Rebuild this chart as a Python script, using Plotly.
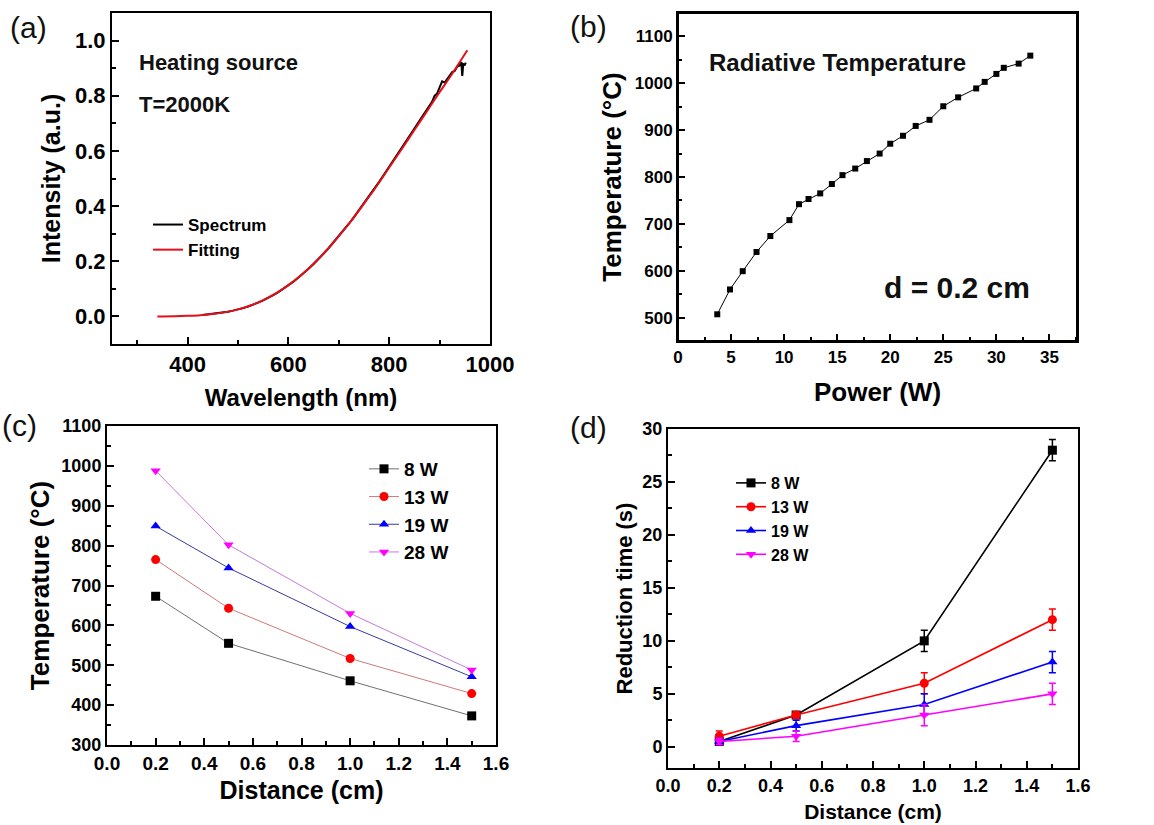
import plotly.graph_objects as go

# ---------------- data ----------------
# (a) spectrum and Planck fit (T = 2000 K)
fit_wl = [340, 375, 400, 425, 450, 475, 500, 525, 550, 575, 600, 625, 650, 675, 700,
          725, 750, 775, 800, 825, 850, 875, 900, 925, 955]
fit_int = [0.000, 0.0007, 0.0022, 0.0045, 0.0087, 0.0156, 0.0256, 0.0397, 0.0589, 0.0832,
           0.1134, 0.1494, 0.1910, 0.238, 0.291, 0.347, 0.409, 0.472, 0.540, 0.607,
           0.676, 0.744, 0.813, 0.880, 0.965]
spec_wl = [430, 440, 450, 460, 470, 480, 490, 500, 510, 520, 530, 540, 550, 560, 570,
           580, 590, 600, 610, 620, 630, 640, 650, 660, 670, 680, 690, 700, 710, 720,
           730, 740, 750, 760, 770, 780, 790, 800, 810, 820, 830, 840, 850, 860, 870,
           880, 885, 890, 895, 900, 905, 910, 915, 920, 925, 930, 935, 940, 943, 945,
           947, 950, 952]
spec_int = [0.005, 0.007, 0.009, 0.011, 0.014, 0.017, 0.021, 0.025, 0.030, 0.036, 0.042,
            0.050, 0.058, 0.067, 0.077, 0.088, 0.100, 0.112, 0.126, 0.141, 0.156, 0.173,
            0.190, 0.208, 0.228, 0.248, 0.269, 0.291, 0.313, 0.336, 0.360, 0.385, 0.410,
            0.435, 0.461, 0.488, 0.515, 0.542, 0.570, 0.597, 0.625, 0.653, 0.681, 0.709,
            0.737, 0.765, 0.778, 0.800, 0.808, 0.830, 0.852, 0.848, 0.862, 0.872, 0.886,
            0.890, 0.906, 0.910, 0.922, 0.872, 0.915, 0.912, 0.920]

# (b) radiative temperature vs power at d = 0.2 cm
power_w = [3.7, 4.9, 6.1, 7.4, 8.7, 10.5, 11.4, 12.3, 13.4, 14.5, 15.5, 16.7, 17.8, 19.0,
           20.0, 21.2, 22.4, 23.7, 25.0, 26.4, 28.1, 28.9, 30.0, 30.7, 32.1, 33.2]
rad_temp = [507, 560, 599, 640, 674, 708, 742, 753, 765, 785, 804, 818, 834, 850,
            871, 888, 909, 922, 951, 970, 989, 1003, 1020, 1033, 1042, 1059]

# (c) temperature vs distance
distance = [0.2, 0.5, 1.0, 1.5]
power_labels = ["8 W", "13 W", "19 W", "28 W"]
temp_8w = [673, 555, 461, 373]
temp_13w = [765, 643, 517, 429]
temp_19w = [849, 744, 597, 471]
temp_28w = [988, 802, 630, 488]

# (d) reduction time vs distance
time_8w = [0.5, 3, 10, 28]
time_13w = [1, 3, 6, 12]
time_19w = [0.5, 2, 4, 8]
time_28w = [0.5, 1, 3, 5]
err_8w = [0.3, 0.3, 1, 1]
err_13w = [0.5, 0.3, 1, 1]
err_19w = [0.3, 0.5, 1, 1]
err_28w = [0.3, 0.5, 1, 1]

# ---------------- figure ----------------
W, H = 1154, 825
FONT = "Arial, Liberation Sans, Helvetica, sans-serif"


def px(x):
    return x / W


def py(y):
    return 1 - y / H


fig = go.Figure()

# (a)
fig.add_trace(go.Scatter(x=spec_wl, y=spec_int, mode="lines", name="Spectrum",
                         line=dict(color="black", width=2), xaxis="x", yaxis="y",
                         legend="legend"))
fig.add_trace(go.Scatter(x=fit_wl, y=fit_int, mode="lines", name="Fitting",
                         line=dict(color="#e3101a", width=2, shape="spline"),
                         xaxis="x", yaxis="y", legend="legend"))

# (b)
fig.add_trace(go.Scatter(x=power_w, y=rad_temp, mode="lines+markers", showlegend=False,
                         line=dict(color="black", width=1),
                         marker=dict(symbol="square", size=6, color="black"),
                         xaxis="x2", yaxis="y2"))

# (c)
c_series = [temp_8w, temp_13w, temp_19w, temp_28w]
c_marker_col = ["black", "#ff0000", "#0000ff", "#ff00ff"]
c_line_col = ["#707070", "#d07a7a", "#3a3aa0", "#c878d8"]
symbols = ["square", "circle", "triangle-up", "triangle-down"]
for vals, name, mc, lc, sym in zip(c_series, power_labels, c_marker_col, c_line_col, symbols):
    fig.add_trace(go.Scatter(x=distance, y=vals, mode="lines+markers", name=name,
                             line=dict(color=lc, width=1),
                             marker=dict(symbol=sym, size=9, color=mc),
                             xaxis="x3", yaxis="y3", legend="legend2"))

# (d)
d_series = [time_8w, time_13w, time_19w, time_28w]
d_err = [err_8w, err_13w, err_19w, err_28w]
for vals, err, name, mc, sym in zip(d_series, d_err, power_labels, c_marker_col, symbols):
    fig.add_trace(go.Scatter(x=distance, y=vals, mode="lines+markers", name=name,
                             line=dict(color=mc, width=1.6),
                             marker=dict(symbol=sym, size=9, color=mc),
                             error_y=dict(type="data", array=err, visible=True,
                                          color=mc, thickness=1.5, width=3.5),
                             xaxis="x4", yaxis="y4", legend="legend3"))


def axis(domain, rng, dtick, minor, tick0, size, title, tsize, standoff, anchor, fmt=None):
    d = dict(domain=domain, range=rng, dtick=dtick, tick0=tick0, anchor=anchor,
             automargin=False,
             showline=True, linecolor="black", linewidth=2, mirror=True,
             ticks="inside", ticklen=7, tickwidth=2, tickcolor="black",
             minor=dict(dtick=minor, ticks="inside", ticklen=4, tickwidth=2,
                        tickcolor="black"),
             showgrid=False, zeroline=False,
             tickfont=dict(family=FONT, size=size, color="black", weight="bold"),
             title=dict(text=title, standoff=standoff,
                        font=dict(family=FONT, size=tsize, color="black", weight="bold")))
    if fmt:
        d["tickformat"] = fmt
    return d


fig.update_layout(
    width=W, height=H, autosize=False,
    margin=dict(l=0, r=0, t=0, b=0, pad=0, autoexpand=False),
    paper_bgcolor="white", plot_bgcolor="white",
    font=dict(family=FONT, color="black"),
    xaxis=axis([px(112), px(490)], [250, 1000], 200, 100, 400, 22,
               "Wavelength (nm)", 24, 13, "y"),
    yaxis=axis([py(344), py(13)], [-0.1, 1.1], 0.2, 0.1, 0, 22,
               "Intensity (a.u.)", 25, 7, "x", ".1f"),
    xaxis2=axis([px(678), px(1077)], [0, 37.6], 5, 2.5, 0, 17,
                "Power (W)", 26, 16, "y2"),
    yaxis2=axis([py(341), py(13)], [450, 1150], 100, 50, 500, 17,
                "Temperature (°C)", 26, 6, "x2"),
    xaxis3=axis([px(107), px(496)], [0, 1.6], 0.2, 0.1, 0, 19,
                "Distance (cm)", 25, 9, "y3", ".1f"),
    yaxis3=axis([py(745), py(426)], [300, 1100], 100, 50, 300, 18,
                "Temperature (°C)", 26, 4, "x3"),
    xaxis4=axis([px(668), px(1078)], [0, 1.6], 0.2, 0.1, 0, 18,
                "Distance (cm)", 21, 10, "y4", ".1f"),
    yaxis4=axis([py(768), py(429)], [-2, 30], 5, 2.5, 0, 18,
                "Reduction time (s)", 22, 4, "x4"),
    legend=dict(x=px(148), y=py(207), xanchor="left", yanchor="top",
                bgcolor="rgba(0,0,0,0)", borderwidth=0,
                font=dict(family=FONT, size=17, color="black", weight="bold")),
    legend2=dict(x=px(364), y=py(450), xanchor="left", yanchor="top",
                 bgcolor="rgba(0,0,0,0)", borderwidth=0,
                 font=dict(family=FONT, size=19, color="black", weight="bold")),
    legend3=dict(x=px(731), y=py(466), xanchor="left", yanchor="top",
                 bgcolor="rgba(0,0,0,0)", borderwidth=0,
                 font=dict(family=FONT, size=16, color="black", weight="bold")),
)

# frame of panel (b)
fig.add_shape(type="rect", xref="x2 domain", yref="y2 domain", x0=0, x1=1, y0=0, y1=1,
              line=dict(color="black", width=2), fillcolor="rgba(0,0,0,0)", layer="above")

annots = [
    dict(text="(a)", x=px(8), y=py(28), xanchor="left", yanchor="middle", size=30, bold=False),
    dict(text="(b)", x=px(568), y=py(27), xanchor="left", yanchor="middle", size=30, bold=False),
    dict(text="(c)", x=px(0), y=py(425), xanchor="left", yanchor="middle", size=30, bold=False),
    dict(text="(d)", x=px(568), y=py(427), xanchor="left", yanchor="middle", size=30, bold=False),
    dict(text="Heating source", x=px(137), y=py(62), xanchor="left", yanchor="middle", size=22, bold=True),
    dict(text="T=2000K", x=px(137), y=py(105), xanchor="left", yanchor="middle", size=22, bold=True),
    dict(text="Radiative Temperature", x=px(837), y=py(62), xanchor="center", yanchor="middle", size=24, bold=True),
    dict(text="d = 0.2 cm", x=px(957), y=py(287), xanchor="center", yanchor="middle", size=30, bold=True),
]
for a in annots:
    fig.add_annotation(text=a["text"], x=a["x"], y=a["y"], xref="paper", yref="paper",
                       xanchor=a["xanchor"], yanchor=a["yanchor"], showarrow=False,
                       font=dict(family=FONT, size=a["size"], color="#111111",
                                 weight="bold" if a["bold"] else "normal"))

fig.write_html("out.html", config={"displayModeBar": False},
               post_script="document.body.style.margin='0px';")
